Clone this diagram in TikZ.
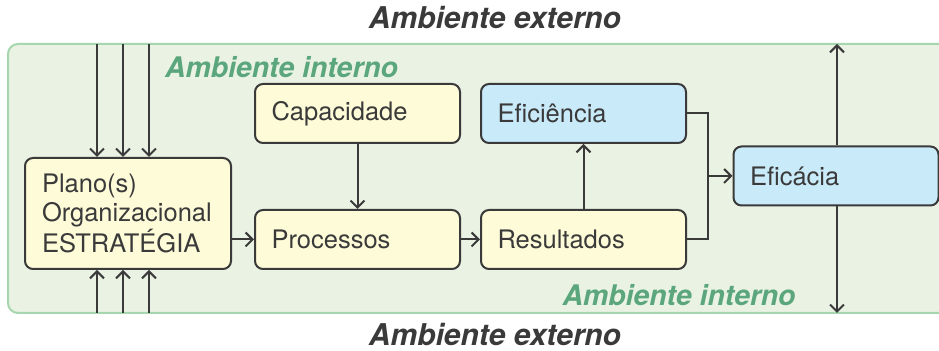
\documentclass[tikz,border=0pt]{standalone}
\usepackage{fontspec}
\setmainfont{TeX Gyre Heros}
\usetikzlibrary{arrows.meta, positioning}
\definecolor{envfill}{HTML}{EAF3E3}
\definecolor{envline}{HTML}{A5D6AE}
\definecolor{envtext}{HTML}{5BA67C}
\definecolor{boxyellow}{HTML}{FEFBD8}
\definecolor{boxblue}{HTML}{C9EAF9}
\definecolor{ink}{HTML}{3A3A3A}

\begin{document}
\begin{tikzpicture}[
    x=0.5pt, y=-0.5pt,
    block/.style={rectangle, draw=ink, line width=1pt, rounded corners=4pt, text=ink, font=\fontsize{12.75}{14.25}\selectfont, minimum width=102.5pt, minimum height=29.5pt, text width=86pt, align=left, inner xsep=8pt},
    plan/.style={block, fill=boxyellow, minimum width=103pt, minimum height=55.5pt},
    line/.style={draw=ink, line width=1pt, -{Straight Barb[length=3.5pt, width=7pt]}},
    envlabel/.style={font=\fontsize{14.2}{17}\selectfont\bfseries\itshape, text=envtext},
    outlabel/.style={font=\fontsize{15}{18}\selectfont\bfseries\itshape, text=ink}
]
\useasboundingbox (0,0) rectangle (939,351);

% Ambiente interno
\draw[envline, fill=envfill, line width=1pt, rounded corners=5pt] (8,44) rectangle (980,313);
\node[outlabel] (exttop) at (495,18) {Ambiente externo};
\node[outlabel] (extbot) at (495,335) {Ambiente externo};
\node[envlabel] (inttop) at (281.5,67) {Ambiente interno};
\node[envlabel] (intbot) at (679,295) {Ambiente interno};

% Nodes
\node[plan] (plano) at (128,213.5) {Plano(s)\\Organizacional\\ESTRATÉGIA};
\node[block, fill=boxyellow] (proc) at (357.5,239.5) {Processos};
\node[block, fill=boxyellow] (cap) at (357.5,113.5) {Capacidade};
\node[block, fill=boxyellow] (res) at (583.5,239.5) {Resultados};
\node[block, fill=boxblue] (efi) at (583.5,113.5) {Eficiência};
\node[block, fill=boxblue] (efa) at (836,176) {Eficácia};

% Entradas do ambiente externo
\foreach \x [count=\i] in {97,123,149}
{
    \coordinate (top\i) at (\x,44);
    \coordinate (bot\i) at (\x,313);
    \draw[line] (top\i) -- (top\i |- plano.north);
    \draw[line] (bot\i) -- (bot\i |- plano.south);
}

% Draw arrows
\draw[line] (plano.east |- proc) -- (proc);
\draw[line] (cap) -- (proc);
\draw[line] (proc) -- (res);
\draw[line] (res) -- (efi);

% Eficiencia e resultados -> eficacia
\coordinate (join) at (708,176);
\draw[ink, line width=1pt] (efi.east) -| (join);
\draw[ink, line width=1pt] (res.east) -| (join);
\draw[line] (join) -- (efa);

% Eficacia -> ambiente externo
\coordinate (outtop) at (837,44);
\coordinate (outbot) at (837,313);
\draw[line] (efa.north -| outtop) -- (outtop);
\draw[line] (efa.south -| outbot) -- (outbot);

\end{tikzpicture}
\end{document}
